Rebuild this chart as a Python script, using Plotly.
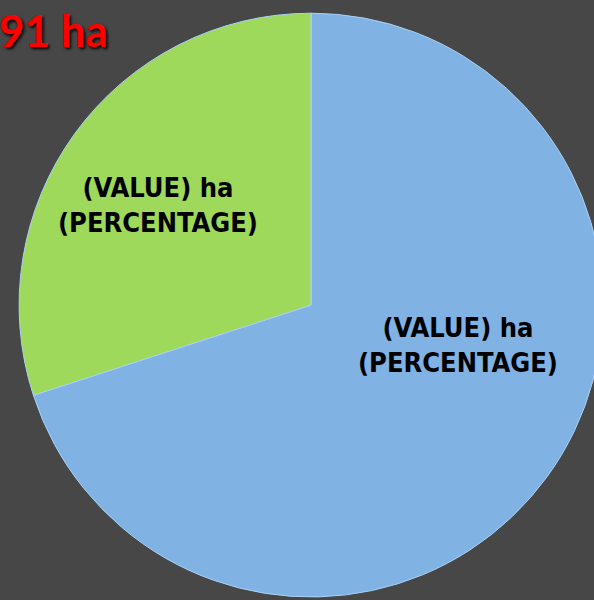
import plotly.graph_objects as go

categories = ["Blue area", "Green area"]
values = [70, 30]
colors = ["#80b2e4", "#9fd95b"]
slice_labels = ["(VALUE) ha<br>(PERCENTAGE)", "(VALUE) ha<br>(PERCENTAGE)"]
title_text = "91 ha"

W, H = 622, 600

fig = go.Figure()
fig.add_trace(go.Pie(
    labels=categories,
    values=values,
    sort=False,
    direction="clockwise",
    rotation=0,
    marker=dict(colors=colors, line=dict(color="#a9d2f7", width=1)),
    textinfo="none",
    hoverinfo="skip",
    showlegend=False,
    domain=dict(x=[0, 1], y=[0.005, 0.978]),
))

label_pos = [(458, 345), (158, 205)]
for txt, (px, py) in zip(slice_labels, label_pos):
    fig.add_annotation(
        x=px / W, y=1 - py / H, xref="paper", yref="paper",
        text="<b>" + txt + "</b>", showarrow=False,
        xanchor="center", yanchor="middle",
        font=dict(family="DejaVu Sans Condensed, Liberation Sans Narrow, Arial Narrow, sans-serif",
                  size=27, color="#000000"),
    )

fig.add_annotation(
    x=110 / W, y=1 - 2 / H, xref="paper", yref="paper",
    text="<b>" + title_text + "</b>", showarrow=False,
    xanchor="right", yanchor="top",
    font=dict(family="Lato, Open Sans, sans-serif", size=44, color="#ff0000",
              shadow="2px 2px 3px #000000"),
)

fig.update_layout(
    width=W, height=H,
    margin=dict(l=0, r=0, t=0, b=0),
    paper_bgcolor="#474747",
    plot_bgcolor="#474747",
)

fig.write_html(
    "out.html",
    config={"displayModeBar": False},
    post_script="document.body.style.margin='0';document.body.style.overflow='hidden';document.documentElement.style.overflow='hidden';",
)
